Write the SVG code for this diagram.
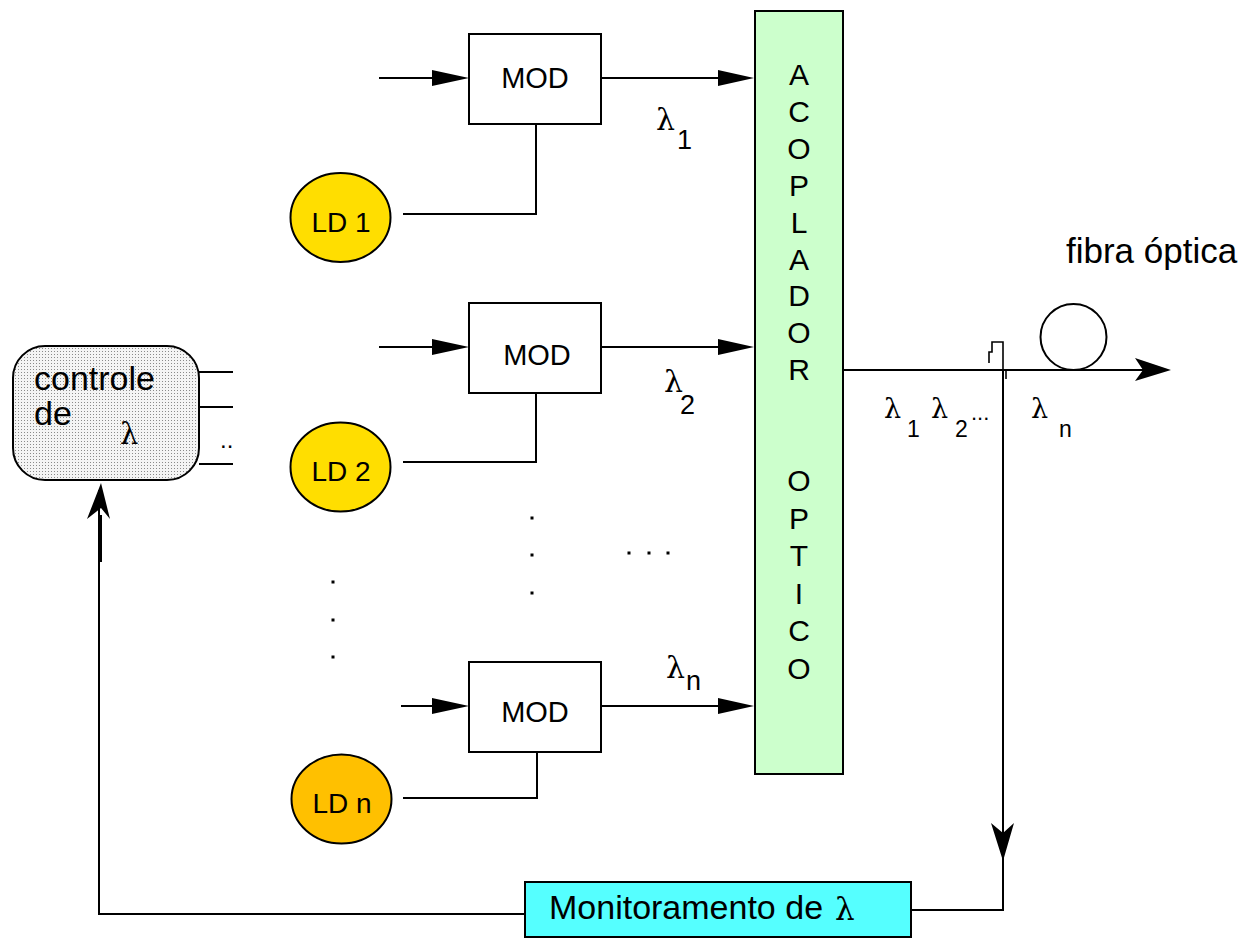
<svg xmlns="http://www.w3.org/2000/svg" width="1239" height="938" viewBox="0 0 1239 938">
<style>
  .ln{fill:none;stroke:#000;stroke-width:2}
  .box{stroke:#000;stroke-width:2}
  .t{font-family:"Liberation Sans",Arial,sans-serif;fill:#000}
  .g{font-family:"DejaVu Serif","Liberation Serif",serif;fill:#000}
  .ah{fill:#000;stroke:none}
</style>
<defs>
  <pattern id="dots" width="3" height="3" patternUnits="userSpaceOnUse">
    <rect width="3" height="3" fill="#f4f4f4"/>
    <rect width="1" height="1" fill="#8a8a8a"/>
  </pattern>
</defs>

<g id="connectors">
  <!-- input arrows -->
  <path class="ln" d="M379,78 H440"/>
  <polygon class="ah" points="432,70 469,78 432,86"/>
  <path class="ln" d="M379,347 H440"/>
  <polygon class="ah" points="432,339 469,347 432,355"/>
  <path class="ln" d="M401,706 H440"/>
  <polygon class="ah" points="432,698 469,706 432,714"/>
  <!-- MOD to coupler -->
  <path class="ln" d="M601,78 H725"/>
  <polygon class="ah" points="718,70 754,78 718,86"/>
  <path class="ln" d="M601,347 H725"/>
  <polygon class="ah" points="718,339 754,347 718,355"/>
  <path class="ln" d="M601,706 H725"/>
  <polygon class="ah" points="718,698 754,706 718,714"/>
  <!-- LD to MOD -->
  <path class="ln" d="M403,214 H536 V124"/>
  <path class="ln" d="M403,462 H536 V393"/>
  <path class="ln" d="M403,798 H537 V752"/>
  <!-- controle outputs -->
  <path class="ln" d="M199,372 H233 M199,407 H233 M199,464 H233"/>
  <!-- output fibre -->
  <path class="ln" d="M843,370 H1145"/>
  <polygon class="ah" points="1135,358 1171,370 1135,381 1143,370"/>
  <!-- pulse / tap -->
  <path fill="none" stroke="#000" stroke-width="1.6" d="M989,363 V352 H992 V342 H1003 V370"/>
  <path fill="none" stroke="#000" stroke-width="1.6" d="M1006,370 V379"/>
  <!-- monitoring tap down -->
  <path class="ln" d="M1003,370 V910 H911"/>
  <polygon class="ah" points="991,823 1003,833 1014,823 1003,861"/>
  <!-- feedback to controle -->
  <path class="ln" d="M525,914 H99 V490"/>
  <path fill="none" stroke="#000" stroke-width="4" d="M100,515 V562"/>
  <polygon class="ah" points="101,483 110,519 101,508 87,519"/>
</g>

<g id="mod1">
  <rect class="box" x="469" y="34" width="132" height="90" fill="#fff"/>
  <text class="t" x="535" y="88" font-size="29" text-anchor="middle">MOD</text>
</g>
<g id="mod2">
  <rect class="box" x="469" y="303" width="132" height="90" fill="#fff"/>
  <text class="t" x="537" y="365" font-size="29" text-anchor="middle">MOD</text>
</g>
<g id="modn">
  <rect class="box" x="469" y="662" width="132" height="90" fill="#fff"/>
  <text class="t" x="535" y="722" font-size="29" text-anchor="middle">MOD</text>
</g>

<g id="ld1">
  <ellipse class="box" cx="340.5" cy="217.5" rx="50" ry="44.5" fill="#ffde00"/>
  <text class="t" x="341" y="232" font-size="28" text-anchor="middle">LD 1</text>
</g>
<g id="ld2">
  <ellipse class="box" cx="340.5" cy="467" rx="50" ry="44.5" fill="#ffde00"/>
  <text class="t" x="341" y="481" font-size="28" text-anchor="middle">LD 2</text>
</g>
<g id="ldn">
  <ellipse class="box" cx="341.5" cy="799" rx="50" ry="44.5" fill="#ffc000"/>
  <text class="t" x="342" y="813" font-size="28" text-anchor="middle">LD n</text>
</g>

<g id="acoplador">
  <rect class="box" x="755" y="11" width="88" height="763" fill="#ccffcc"/>
  <g class="t" font-size="30" text-anchor="middle">
    <text x="799" y="85">A</text>
    <text x="799" y="122">C</text>
    <text x="799" y="159">O</text>
    <text x="799" y="196">P</text>
    <text x="799" y="233">L</text>
    <text x="799" y="270">A</text>
    <text x="799" y="306">D</text>
    <text x="799" y="343">O</text>
    <text x="799" y="380">R</text>
    <text x="799" y="491">O</text>
    <text x="799" y="529">P</text>
    <text x="799" y="566">T</text>
    <text x="799" y="604">I</text>
    <text x="799" y="641">C</text>
    <text x="799" y="679">O</text>
  </g>
</g>

<g id="controle">
  <rect class="box" x="13" y="346" width="186" height="134" rx="32" ry="32" fill="url(#dots)"/>
  <text class="t" x="34" y="390" font-size="34">controle</text>
  <text class="t" x="34" y="425" font-size="34">de</text>
  <text class="g" x="120" y="444" font-size="29">λ</text>
</g>
<text class="t" x="220" y="448" font-size="24">..</text>

<g id="monitoramento">
  <rect class="box" x="525" y="882" width="386" height="55" fill="#55ffff"/>
  <text class="t" x="549" y="919" font-size="34">Monitoramento de</text>
  <text class="g" x="835" y="920" font-size="31">λ</text>
</g>

<g id="fibra">
  <circle cx="1073.5" cy="337" r="33" fill="none" stroke="#000" stroke-width="2"/>
  <text class="t" x="1066" y="263" font-size="35">fibra óptica</text>
</g>

<g id="labels">
  <text class="g" x="656" y="130" font-size="30">λ</text>
  <text class="t" x="677" y="149" font-size="27">1</text>
  <text class="g" x="664" y="392" font-size="30">λ</text>
  <text class="t" x="680" y="414" font-size="27">2</text>
  <text class="g" x="666" y="678" font-size="30">λ</text>
  <text class="t" x="686" y="690" font-size="27">n</text>
  <text class="g" x="884" y="418" font-size="27">λ</text>
  <text class="t" x="907" y="437" font-size="23">1</text>
  <text class="g" x="931" y="418" font-size="27">λ</text>
  <text class="t" x="955" y="437" font-size="23">2</text>
  <text class="t" x="971" y="420" font-size="22">...</text>
  <text class="g" x="1031" y="418" font-size="27">λ</text>
  <text class="t" x="1059" y="437" font-size="23">n</text>
</g>

<g id="dots">
  <rect x="331.5" y="580.5" width="3" height="3"/>
  <rect x="331.5" y="618.5" width="3" height="3"/>
  <rect x="331.5" y="655.5" width="3" height="3"/>
  <rect x="530.5" y="516.5" width="3" height="3"/>
  <rect x="530.5" y="553.5" width="3" height="3"/>
  <rect x="530.5" y="591.5" width="3" height="3"/>
  <rect x="627.5" y="551.5" width="3" height="3"/>
  <rect x="647.5" y="551.5" width="3" height="3"/>
  <rect x="666.5" y="551.5" width="3" height="3"/>
</g>
</svg>
